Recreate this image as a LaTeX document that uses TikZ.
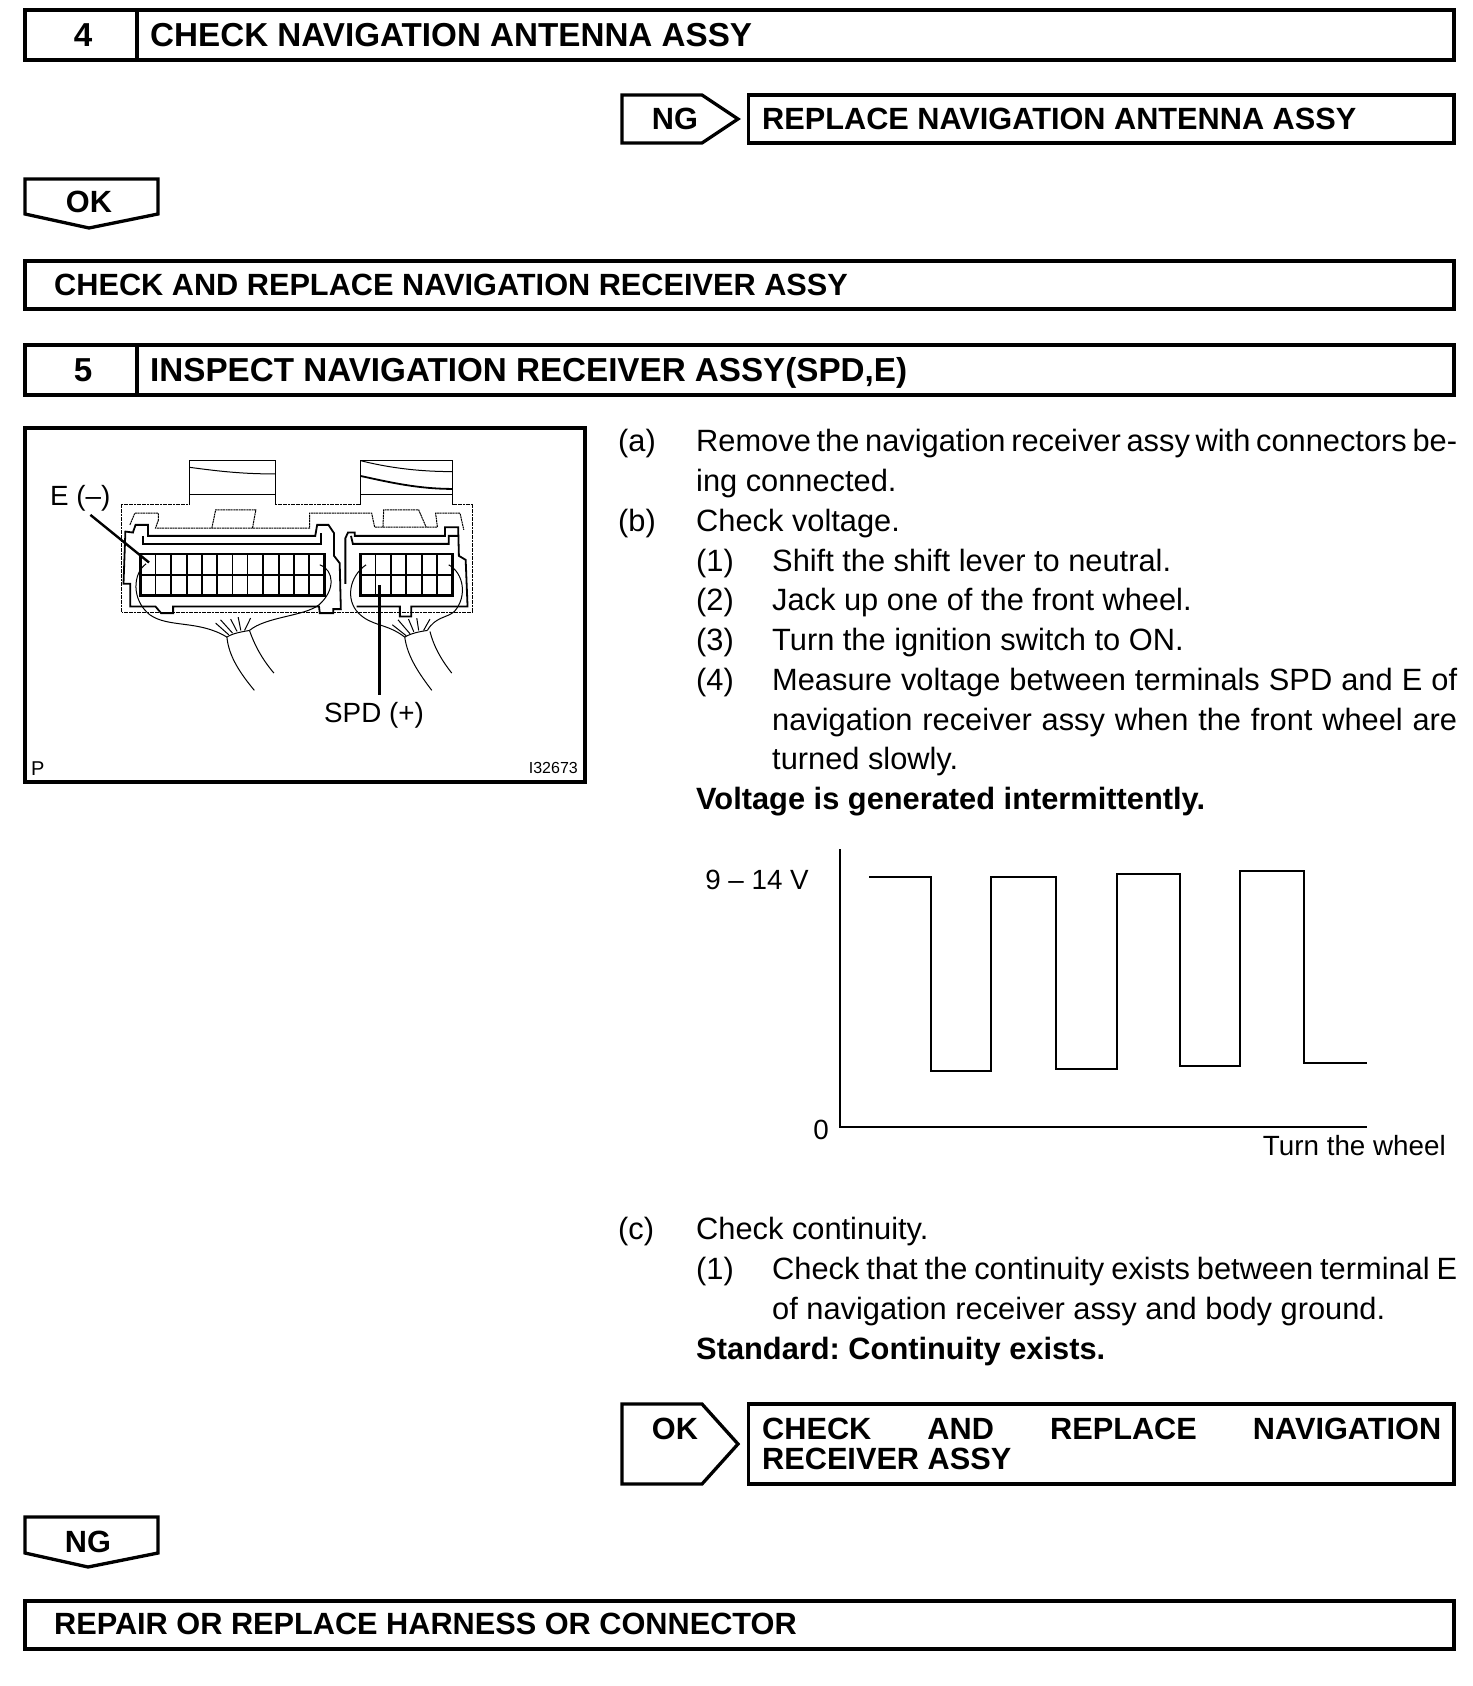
\documentclass[tikz,border=0pt]{standalone}
\usepackage{fontspec}
\setmainfont{Liberation Sans}
\frenchspacing
\tikzset{
  framebox/.style={draw,line width=3.3pt,line join=miter},
  headtxt/.style={anchor=base west,inner sep=0pt,font=\fontsize{33.2}{36}\selectfont\bfseries},
  headmid/.style={anchor=base,inner sep=0pt,font=\fontsize{33.2}{36}\selectfont\bfseries},
  acttxt/.style={anchor=base west,inner sep=0pt,font=\fontsize{30.7}{33}\selectfont\bfseries},
  actmid/.style={anchor=base,inner sep=0pt,font=\fontsize{30.7}{33}\selectfont\bfseries},
  bodytxt/.style={anchor=base west,inner sep=0pt,font=\fontsize{30.8}{33}\selectfont},
  boldtxt/.style={anchor=base west,inner sep=0pt,font=\fontsize{30.8}{33}\selectfont\bfseries},
  figtxt/.style={inner sep=0pt,font=\fontsize{27.8}{31}\selectfont},
  thinline/.style={line width=1pt},
  dotline/.style={line width=1pt,dash pattern=on 2pt off 0.6pt},
  midline/.style={line width=1.8pt},
  gridline/.style={line width=2.4pt},
  leader/.style={line width=2.4pt}
}
\newcommand{\fitline}[2]{\makebox[#1pt][s]{#2}}
\begin{document}
\begin{tikzpicture}[x=1pt,y=-1pt]
\useasboundingbox (0,0) rectangle (1472,1686);
\draw[framebox] (25,10) rectangle (1454,60);
\draw[framebox] (137,10) -- (137,60);
\node[headmid] (numfour) at (83,47) {4};
\node[headtxt] (headfour) at (150,47) {CHECK NAVIGATION ANTENNA ASSY};
\draw[framebox] (622,95) -- (702,95) -- (738,119) -- (702,143) -- (622,143) -- cycle;
\node[actmid] (ngfour) at (675,129) {NG};
\draw[framebox] (748.5,95) rectangle (1454,143);
\node[acttxt] (replant) at (762,129) {REPLACE NAVIGATION ANTENNA ASSY};
\draw[framebox] (25,179) -- (158,179) -- (158,214) -- (89,228) -- (25,214) -- cycle;
\node[actmid] (okfour) at (89,212) {OK};
\draw[framebox] (25,261) rectangle (1454,309);
\node[acttxt] (chkrecv) at (54,295) {CHECK AND REPLACE NAVIGATION RECEIVER ASSY};
\draw[framebox] (25,345) rectangle (1454,395);
\draw[framebox] (137,345) -- (137,395);
\node[headmid] (numfive) at (83,381) {5};
\node[headtxt] (headfive) at (150,381) {INSPECT NAVIGATION RECEIVER ASSY(SPD,E)};
\draw[framebox] (25,428) rectangle (585,782);
\begin{scope}[shift={(10.7,410)},x=0.376pt,y=-0.333pt]
\draw[dotline] (295,607) -- (295,285) -- (475,285);
\draw[thinline] (475,285) -- (475,152) -- (703,152) -- (703,285);
\draw[dotline] (703,285) -- (930,285);
\draw[thinline] (930,285) -- (930,152) -- (1175,152) -- (1175,285);
\draw[dotline] (1175,285) -- (1227,285) -- (1227,607) -- (295,607);
\draw[thinline] (475,172) .. controls (560,185) and (620,192) .. (703,192);
\draw[thinline] (475,255) -- (703,255);
\draw[thinline] (930,152) .. controls (1000,172) and (1080,185) .. (1175,185);
\draw[midline] (930,198) .. controls (1000,215) and (1080,237) .. (1175,237);
\draw[thinline] (930,255) -- (1175,255);
\draw[dotline] (317,345) -- (330,310) -- (393,310) -- (393,330);
\draw[dotline] (393,330) -- (385,355) -- (795,355) -- (795,310) -- (960,310) -- (968,352) -- (1135,352) -- (1130,310) -- (1195,310) -- (1205,360);
\draw[dotline] (535,355) -- (545,300) -- (652,300) -- (643,355);
\draw[dotline] (990,352) -- (992,300) -- (1085,300) -- (1105,352);
\draw[midline] (305,365) -- (300,522) -- (318,522) -- (318,590) -- (385,590) -- (400,610) -- (432,610) -- (432,590) -- (820,590) -- (822,610) -- (858,610) -- (858,598) -- (878,598) -- (875,460) -- (860,438) -- (860,370) -- (845,345) -- (815,345) -- (810,378) -- (365,378) -- (365,345) -- (332,345) -- (325,368) -- cycle;
\draw[midline] (352,378) -- (352,402) -- (825,402) -- (825,370);
\draw[midline] (890,522) -- (890,385) -- (897,368) -- (915,368) -- (915,378) -- (1155,378) -- (1155,352) -- (1190,352) -- (1192,438) -- (1210,450) -- (1215,590) -- (1065,590) -- (1065,620) -- (1035,620) -- (1035,590) -- (920,590);
\draw[midline] (905,378) -- (910,402) -- (1165,402) -- (1165,378) -- (1192,378);
\draw[gridline] (345,432) rectangle (835,557);
\draw[gridline] (345,495) -- (835,495);
\foreach \gx in {385,427,468,508,549,590,630,672,713,753,793}
  \draw[midline] (\gx,432) -- (\gx,557);
\draw[gridline] (930,432) rectangle (1175,557);
\draw[gridline] (930,495) -- (1175,495);
\foreach \gx in {970,1011,1052,1093,1134}
  \draw[midline] (\gx,432) -- (\gx,557);
\draw[thinline] (360,462) .. controls (325,490) and (320,570) .. (370,615) .. controls (420,655) and (500,630) .. (575,682);
\draw[thinline] (822,465) .. controls (860,480) and (865,540) .. (820,585) .. controls (780,620) and (680,620) .. (635,662);
\draw[thinline] (575,682) .. controls (590,670) and (620,665) .. (635,662);
\draw[thinline] (575,682) .. controls (580,740) and (610,790) .. (648,842);
\draw[thinline] (635,662) .. controls (650,710) and (670,750) .. (700,790);
\draw[thinline] (545,640) -- (580,675);
\draw[thinline] (558,630) -- (590,670);
\draw[thinline] (585,628) -- (602,665);
\draw[thinline] (605,622) -- (612,662);
\draw[thinline] (638,625) -- (622,662);
\draw[thinline] (945,465) .. controls (900,500) and (890,570) .. (925,610) .. controls (960,650) and (1000,640) .. (1048,682);
\draw[thinline] (1165,465) .. controls (1205,490) and (1215,560) .. (1180,605) .. controls (1160,625) and (1130,620) .. (1108,662);
\draw[thinline] (1048,682) .. controls (1065,670) and (1090,665) .. (1108,662);
\draw[thinline] (1048,682) .. controls (1055,740) and (1085,790) .. (1120,842);
\draw[thinline] (1115,665) .. controls (1125,710) and (1145,750) .. (1173,790);
\draw[thinline] (1015,645) -- (1052,678);
\draw[thinline] (1030,630) -- (1062,672);
\draw[thinline] (1058,628) -- (1072,666);
\draw[thinline] (1080,625) -- (1085,662);
\draw[thinline] (1115,628) -- (1098,662);
\coordinate (etop) at (212,315);
\coordinate (etip) at (368,458);
\coordinate (sptop) at (981,855);
\coordinate (sptip) at (981,525);
\end{scope}
\draw[leader] (etop) -- (etip);
\draw[leader] (sptop) -- (sptip);
\node[figtxt,anchor=base west] (elabel) at (50,505) {E (--)};
\node[figtxt,anchor=base west] (splabel) at (324,722) {SPD (+)};
\node[anchor=base west,inner sep=0pt,font=\fontsize{20}{22}\selectfont] (plabel) at (31,775) {P};
\node[anchor=base east,inner sep=0pt,font=\fontsize{16}{18}\selectfont] (figid) at (578,773) {I32673};
\node[bodytxt] (ltra) at (618,451.6) {(a)};
\node[bodytxt] (lna) at (696,451.6) {\fitline{761}{Remove the navigation receiver assy with connectors be-}};
\node[bodytxt] (lnb) at (696,491.4) {ing connected.};
\node[bodytxt] (ltrb) at (618,531.2) {(b)};
\node[bodytxt] (lnc) at (696,531.2) {Check voltage.};
\node[bodytxt] (numa) at (696,571) {(1)};
\node[bodytxt] (lnd) at (772,571) {Shift the shift lever to neutral.};
\node[bodytxt] (numb) at (696,610.8) {(2)};
\node[bodytxt] (lne) at (772,610.8) {Jack up one of the front wheel.};
\node[bodytxt] (numc) at (696,650.6) {(3)};
\node[bodytxt] (lnf) at (772,650.6) {Turn the ignition switch to ON.};
\node[bodytxt] (numd) at (696,690.3) {(4)};
\node[bodytxt] (lng) at (772,690.3) {\fitline{685}{Measure voltage between terminals SPD and E of}};
\node[bodytxt] (lnh) at (772,730) {\fitline{685}{navigation receiver assy when the front wheel are}};
\node[bodytxt] (lni) at (772,769.9) {turned slowly.};
\node[boldtxt] (lnj) at (696,809.7) {Voltage is generated intermittently.};
\draw[midline] (840,849) -- (840,1127) -- (1367,1127);
\draw[midline] (869,877) -- (931,877) -- (931,1071) -- (991,1071) -- (991,877) -- (1056,877) -- (1056,1069) -- (1117,1069) -- (1117,874) -- (1180,874) -- (1180,1066) -- (1240,1066) -- (1240,871) -- (1304,871) -- (1304,1063) -- (1367,1063);
\node[figtxt,anchor=base east] (vhigh) at (809,889) {9 -- 14 V};
\node[figtxt,anchor=base east] (vzero) at (829,1139) {0};
\node[figtxt,anchor=base east] (turnlbl) at (1446,1155) {Turn the wheel};
\node[bodytxt] (ltrc) at (618,1239.8) {(c)};
\node[bodytxt] (lnk) at (696,1239.8) {Check continuity.};
\node[bodytxt] (nume) at (696,1279.6) {(1)};
\node[bodytxt] (lnl) at (772,1279.6) {\fitline{685}{Check that the continuity exists between terminal E}};
\node[bodytxt] (lnm) at (772,1319.4) {of navigation receiver assy and body ground.};
\node[boldtxt] (lnn) at (696,1359.2) {Standard: Continuity exists.};
\draw[framebox] (622,1404) -- (702,1404) -- (738,1444) -- (702,1484) -- (622,1484) -- cycle;
\node[actmid] (okfive) at (675,1439) {OK};
\draw[framebox] (748.5,1404) rectangle (1454,1484);
\node[acttxt] (chkone) at (762,1439) {\fitline{679}{CHECK AND REPLACE NAVIGATION}};
\node[acttxt] (chktwo) at (762,1469) {RECEIVER ASSY};
\draw[framebox] (25,1517) -- (158,1517) -- (158,1553) -- (88,1567) -- (25,1553) -- cycle;
\node[actmid] (ngfive) at (88,1552) {NG};
\draw[framebox] (25,1601) rectangle (1454,1649);
\node[acttxt] (repair) at (54,1634) {REPAIR OR REPLACE HARNESS OR CONNECTOR};
\end{tikzpicture}
\end{document}
